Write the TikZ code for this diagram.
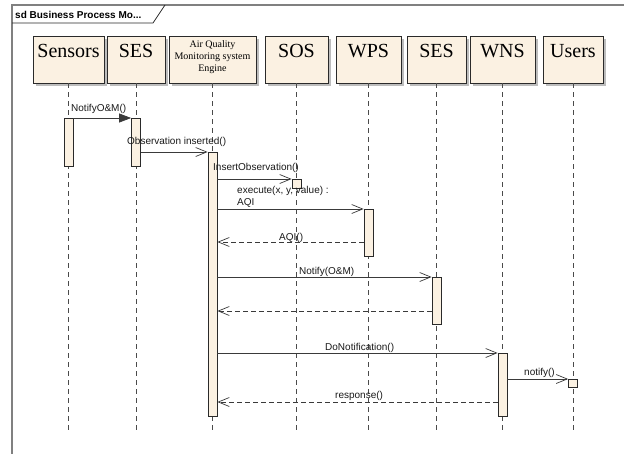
\documentclass[tikz,border=0pt]{standalone}
\usepackage{fontspec}
\setmainfont{Liberation Serif}
\setsansfont{Liberation Sans}
\usetikzlibrary{arrows.meta,shadows}
\definecolor{cream}{HTML}{FBF1E2}
\definecolor{framegray}{HTML}{808080}
\definecolor{shadowgray}{HTML}{BDBDBD}
\definecolor{lifegray}{HTML}{4A4A4A}
\definecolor{boxline}{HTML}{2A2A2A}
\definecolor{msgline}{HTML}{3A3A3A}
\definecolor{msgtext}{HTML}{1A1A1A}
\begin{document}
\begin{tikzpicture}[x=1pt,y=-1pt,
  head/.style={draw=boxline, fill=cream, line width=0.9pt, minimum height=47pt, inner sep=0pt,
    drop shadow={shadow xshift=3pt, shadow yshift=-3pt, fill=shadowgray, opacity=1}},
  headtxt/.style={font=\fontsize{20}{24}\selectfont, anchor=base, inner sep=0pt},
  aqtxt/.style={font=\fontsize{10}{12}\selectfont, align=center, inner sep=0pt},
  act/.style={draw=boxline, fill=cream, line width=0.8pt, minimum width=9pt, inner sep=0pt, anchor=north},
  lifeline/.style={draw=lifegray, line width=0.8pt, dash pattern=on 5pt off 4pt},
  msg/.style={draw=msgline, line width=0.7pt, -{Straight Barb[length=11pt,width=9pt]}},
  syncmsg/.style={draw=msgline, line width=0.7pt, -{Triangle[length=12pt,width=9pt]}},
  ret/.style={msg, dash pattern=on 5pt off 3pt},
  mlbl/.style={font=\sffamily\fontsize{10}{11.5}\selectfont, anchor=base west, inner sep=0pt, text=msgtext, align=left},
  tablbl/.style={font=\sffamily\bfseries\fontsize{10}{12}\selectfont, anchor=base west, inner sep=0pt}
]
\useasboundingbox (0,0) rectangle (624,453);
\clip (0,0) rectangle (624,453);
\fill[white] (0,0) rectangle (624,453);

% frame
\draw[framegray, line width=1.3pt] (12,470) -- (12,5) -- (640,5);
\draw[boxline, line width=0.7pt] (165,5) -- (153,23) -- (12,23);
\node[tablbl] (tab) at (15,18) {sd Business Process Mo...};

% heads
\node[head, minimum width=71pt] (hSens) at (68.5,59.5) {};
\node[head, minimum width=58pt] (hSes1) at (136,59.5) {};
\node[head, minimum width=87pt] (hAQ) at (212.5,59.5) {};
\node[head, minimum width=63pt] (hSOS) at (296.5,59.5) {};
\node[head, minimum width=65pt] (hWPS) at (368.5,59.5) {};
\node[head, minimum width=59pt] (hSes2) at (436.5,59.5) {};
\node[head, minimum width=65pt] (hWNS) at (502.5,59.5) {};
\node[head, minimum width=60pt] (hUsr) at (573,59.5) {};

\node[headtxt] (tSens) at (68.5,57) {Sensors};
\node[headtxt] (tSes1) at (136,57) {SES};
\node[aqtxt] (tAQ) at (212.5,57) {Air Quality\\Monitoring system\\Engine};
\node[headtxt] (tSOS) at (296.5,57) {SOS};
\node[headtxt] (tWPS) at (368.5,57) {WPS};
\node[headtxt] (tSes2) at (436.5,57) {SES};
\node[headtxt] (tWNS) at (502.5,57) {WNS};
\node[headtxt] (tUsr) at (573,57) {Users};

% lifelines
\coordinate (eSens) at (68.5,433);
\coordinate (eSes1) at (136,433);
\coordinate (eAQ) at (212.5,433);
\coordinate (eSOS) at (296.5,433);
\coordinate (eWPS) at (368.5,433);
\coordinate (eSes2) at (436.5,433);
\coordinate (eWNS) at (502.5,433);
\coordinate (eUsr) at (573,433);
\draw[lifeline] (hSens.south) -- (eSens);
\draw[lifeline] (hSes1.south) -- (eSes1);
\draw[lifeline] (hAQ.south) -- (eAQ);
\draw[lifeline] (hSOS.south) -- (eSOS);
\draw[lifeline] (hWPS.south) -- (eWPS);
\draw[lifeline] (hSes2.south) -- (eSes2);
\draw[lifeline] (hWNS.south) -- (eWNS);
\draw[lifeline] (hUsr.south) -- (eUsr);

% activations
\node[act, minimum height=48pt] (aSens) at (68.5,118) {};
\node[act, minimum height=48pt] (aSes1) at (136,118) {};
\node[act, minimum height=264pt] (aAQ) at (212.5,152) {};
\node[act, minimum height=9pt] (aSOS) at (296.5,179) {};
\node[act, minimum height=47pt] (aWPS) at (368.5,209) {};
\node[act, minimum height=47pt] (aSes2) at (436.5,277) {};
\node[act, minimum height=63pt] (aWNS) at (502.5,353) {};
\node[act, minimum height=8pt] (aUsr) at (573,379) {};

% message levels
\coordinate (yAQI) at (0,242);
\coordinate (yR2) at (0,311);
\coordinate (yResp) at (0,402);

% messages
\draw[syncmsg] (aSens.north east) -- (aSes1.north west);
\draw[msg] (aSes1.east |- aAQ.north) -- (aAQ.north west);
\draw[msg] (aAQ.east |- aSOS.north) -- (aSOS.north west);
\draw[msg] (aAQ.east |- aWPS.north) -- (aWPS.north west);
\draw[ret] (aWPS.west |- yAQI) -- (aAQ.east |- yAQI);
\draw[msg] (aAQ.east |- aSes2.north) -- (aSes2.north west);
\draw[ret] (aSes2.west |- yR2) -- (aAQ.east |- yR2);
\draw[msg] (aAQ.east |- aWNS.north) -- (aWNS.north west);
\draw[msg] (aWNS.east |- aUsr.north) -- (aUsr.north west);
\draw[ret] (aWNS.west |- yResp) -- (aAQ.east |- yResp);

% labels
\node[mlbl] (l1) at (71,111) {NotifyO\&M()};
\node[mlbl] (l2) at (127,144.5) {Observation inserted()};
\node[mlbl] (l3) at (213,170) {InsertObservation()};
\node[mlbl] (l4) at (237,205) {execute(x, y, value) :\\AQI};
\node[mlbl] (l5) at (279,240) {AQI()};
\node[mlbl] (l6) at (299,274) {Notify(O\&M)};
\node[mlbl] (l7) at (325,350) {DoNotification()};
\node[mlbl] (l8) at (524,375.5) {notify()};
\node[mlbl] (l9) at (335,398) {response()};
\end{tikzpicture}
\end{document}
